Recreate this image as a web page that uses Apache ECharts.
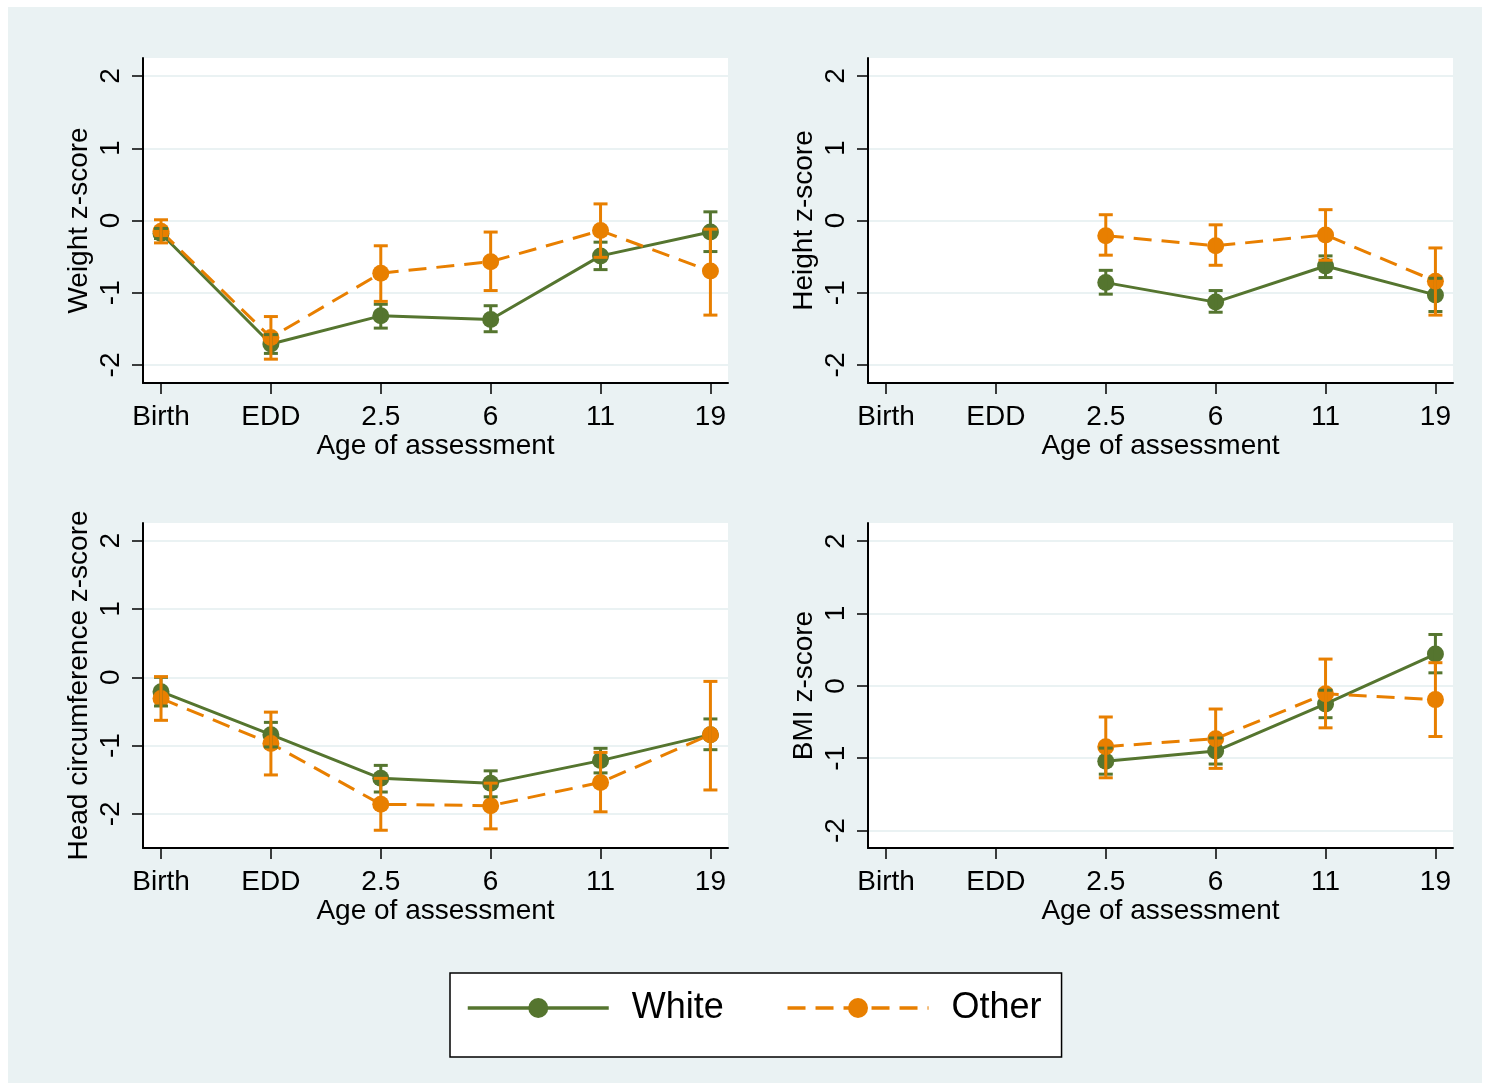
<!DOCTYPE html>
<html>
<head>
<meta charset="utf-8">
<script src="https://cdn.jsdelivr.net/npm/echarts@6/dist/echarts.min.js"></script>
<style>
html,body{margin:0;padding:0;background:#ffffff;}
#chart{width:1490px;height:1090px;}
</style>
</head>
<body>
<div id="chart"></div>
<script>
// ---- data ----
const categories = ['Birth', 'EDD', '2.5', '6', '11', '19'];
const yTicks = [-2, -1, 0, 1, 2];
const seriesNames = ['White', 'Other'];
const panelTitles = ['Weight z-score', 'Height z-score', 'Head circumference z-score', 'BMI z-score'];

const weightWhite   = [-0.18, -1.71, -1.32, -1.37, -0.49, -0.16];
const weightWhiteLo = [-0.25, -1.84, -1.49, -1.54, -0.68, -0.43];
const weightWhiteHi = [-0.11, -1.58, -1.16, -1.18, -0.30, 0.12];
const weightOther   = [-0.15, -1.62, -0.73, -0.57, -0.14, -0.70];
const weightOtherLo = [-0.31, -1.92, -1.12, -0.97, -0.51, -1.31];
const weightOtherHi = [0.01, -1.33, -0.35, -0.16, 0.23, -0.12];

const heightWhite   = [null, null, -0.86, -1.13, -0.63, -1.03];
const heightWhiteLo = [null, null, -1.02, -1.27, -0.79, -1.26];
const heightWhiteHi = [null, null, -0.69, -0.97, -0.49, -0.80];
const heightOther   = [null, null, -0.21, -0.35, -0.20, -0.84];
const heightOtherLo = [null, null, -0.48, -0.62, -0.55, -1.31];
const heightOtherHi = [null, null, 0.08, -0.06, 0.15, -0.38];

const headWhite   = [-0.21, -0.84, -1.48, -1.55, -1.22, -0.84];
const headWhiteLo = [-0.42, -1.02, -1.68, -1.75, -1.40, -1.06];
const headWhiteHi = [0.00, -0.66, -1.29, -1.37, -1.04, -0.61];
const headOther   = [-0.31, -0.97, -1.86, -1.88, -1.54, -0.84];
const headOtherLo = [-0.63, -1.43, -2.24, -2.22, -1.97, -1.65];
const headOtherHi = [0.01, -0.51, -1.48, -1.55, -1.10, -0.06];

const bmiWhite   = [null, null, -1.04, -0.90, -0.25, 0.44];
const bmiWhiteLo = [null, null, -1.22, -1.08, -0.44, 0.18];
const bmiWhiteHi = [null, null, -0.86, -0.72, -0.06, 0.71];
const bmiOther   = [null, null, -0.84, -0.73, -0.11, -0.19];
const bmiOtherLo = [null, null, -1.27, -1.14, -0.58, -0.70];
const bmiOtherHi = [null, null, -0.43, -0.32, 0.37, 0.32];

// ---- layout / style ----
const GREEN = '#55752f';
const ORANGE = '#e87f00';
const BG = '#eaf2f3';
const FONT = 'Liberation Sans, Arial, sans-serif';

const grids = [
  {left: 143, top: 58, width: 585, height: 325, ymin: -2.25, ymax: 2.25},
  {left: 868, top: 58, width: 585, height: 325, ymin: -2.25, ymax: 2.25},
  {left: 143, top: 523, width: 585, height: 325, ymin: -2.5, ymax: 2.26},
  {left: 868, top: 523, width: 585, height: 325, ymin: -2.24, ymax: 2.25}
];

const panels = [
  {w: weightWhite, wl: weightWhiteLo, wh: weightWhiteHi, o: weightOther, ol: weightOtherLo, oh: weightOtherHi},
  {w: heightWhite, wl: heightWhiteLo, wh: heightWhiteHi, o: heightOther, ol: heightOtherLo, oh: heightOtherHi},
  {w: headWhite, wl: headWhiteLo, wh: headWhiteHi, o: headOther, ol: headOtherLo, oh: headOtherHi},
  {w: bmiWhite, wl: bmiWhiteLo, wh: bmiWhiteHi, o: bmiOther, ol: bmiOtherLo, oh: bmiOtherHi}
];

const xTickValues = categories.map((c, i) => i);

function pts(arr) {
  const out = [];
  arr.forEach((v, i) => { if (v !== null) out.push([i, v]); });
  return out;
}
function ciPts(lo, hi) {
  const out = [];
  lo.forEach((v, i) => { if (v !== null) out.push([i, v, hi[i]]); });
  return out;
}
function errRender(color) {
  return function (params, api) {
    const x = api.value(0);
    const p1 = api.coord([x, api.value(1)]);
    const p2 = api.coord([x, api.value(2)]);
    const hw = 7;
    const st = {stroke: color, lineWidth: 3};
    return {
      type: 'group',
      children: [
        {type: 'line', shape: {x1: p1[0], y1: p1[1], x2: p2[0], y2: p2[1]}, style: st},
        {type: 'line', shape: {x1: p1[0] - hw, y1: p1[1], x2: p1[0] + hw, y2: p1[1]}, style: st},
        {type: 'line', shape: {x1: p2[0] - hw, y1: p2[1], x2: p2[0] + hw, y2: p2[1]}, style: st}
      ]
    };
  };
}

const xAxes = [], yAxes = [], series = [], gridOpts = [];
grids.forEach((g, i) => {
  gridOpts.push({left: g.left, top: g.top, width: g.width, height: g.height,
    show: true, backgroundColor: '#ffffff', borderWidth: 0});
  xAxes.push({
    type: 'value', gridIndex: i, min: -0.164, max: 5.16,
    name: 'Age of assessment', nameLocation: 'middle', nameGap: 48,
    nameTextStyle: {fontSize: 28, color: '#000', fontFamily: FONT},
    axisLine: {show: true, onZero: false, lineStyle: {color: '#000', width: 2}},
    axisTick: {show: true, customValues: xTickValues, length: 11, lineStyle: {color: '#000', width: 1.5}},
    axisLabel: {customValues: xTickValues, formatter: v => categories[Math.round(v)],
      fontSize: 28, color: '#000', fontFamily: FONT, margin: 20},
    splitLine: {show: false}
  });
  yAxes.push({
    type: 'value', gridIndex: i, min: g.ymin, max: g.ymax,
    name: panelTitles[i], nameLocation: 'middle', nameGap: 50, nameRotate: 90,
    nameTextStyle: {fontSize: 28, color: '#000', fontFamily: FONT},
    axisLine: {show: true, onZero: false, lineStyle: {color: '#000', width: 2}},
    axisTick: {show: true, customValues: yTicks, length: 11, lineStyle: {color: '#000', width: 1.5}},
    axisLabel: {customValues: yTicks, rotate: 90, fontSize: 28, color: '#000', fontFamily: FONT, margin: 18},
    splitLine: {show: true, lineStyle: {color: BG, width: 2}}
  });
  const p = panels[i];
  series.push({
    name: seriesNames[0], type: 'line', xAxisIndex: i, yAxisIndex: i, data: pts(p.w),
    symbol: 'circle', symbolSize: 17, itemStyle: {color: GREEN}, z: 2,
    lineStyle: {color: GREEN, width: 3, type: 'solid'}, animation: false
  });
  series.push({
    name: seriesNames[1], type: 'line', xAxisIndex: i, yAxisIndex: i, data: pts(p.o),
    symbol: 'circle', symbolSize: 17, itemStyle: {color: ORANGE}, z: 3,
    lineStyle: {color: ORANGE, width: 3, type: [18, 10]}, animation: false
  });
  series.push({
    name: 'ci-white-' + i, type: 'custom', xAxisIndex: i, yAxisIndex: i,
    data: ciPts(p.wl, p.wh), renderItem: errRender(GREEN), z: 4, animation: false,
    encode: {x: 0, y: [1, 2]}
  });
  series.push({
    name: 'ci-other-' + i, type: 'custom', xAxisIndex: i, yAxisIndex: i,
    data: ciPts(p.ol, p.oh), renderItem: errRender(ORANGE), z: 5, animation: false,
    encode: {x: 0, y: [1, 2]}
  });
});

const chart = echarts.init(document.getElementById('chart'), null, {renderer: 'canvas'});
chart.setOption({
  animation: false,
  backgroundColor: '#ffffff',
  graphic: [{type: 'rect', z: -10, silent: true,
    shape: {x: 8, y: 7, width: 1474, height: 1076}, style: {fill: BG}}],
  grid: gridOpts,
  xAxis: xAxes,
  yAxis: yAxes,
  legend: {
    data: seriesNames, left: 450, top: 973,
    backgroundColor: '#ffffff', borderColor: '#000', borderWidth: 1.5, borderRadius: 0,
    padding: [17, 20, 31, 16], itemGap: 62, itemWidth: 141, itemHeight: 25,
    lineStyle: {width: 3.5},
    textStyle: {fontSize: 36, color: '#000', fontFamily: FONT, padding: [0, 0, 0, 18]}
  },
  series: series
});
</script>
</body>
</html>
